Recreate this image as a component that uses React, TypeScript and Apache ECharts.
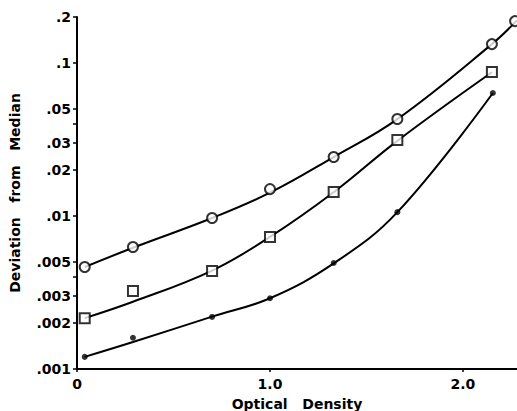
import React, { useEffect, useRef } from "react";
import * as echarts from "echarts";

// Measured markers (x = optical density, y = deviation from median)
const circleX = [0.04, 0.29, 0.7, 1.0, 1.33, 1.66, 2.15, 2.27];
const circleY = [0.00464, 0.00627, 0.0097, 0.015, 0.0243, 0.0431, 0.133, 0.188];
const squareX = [0.04, 0.29, 0.7, 1.0, 1.33, 1.66, 2.15];
const squareY = [0.00215, 0.00324, 0.00437, 0.0073, 0.01435, 0.0314, 0.0873];
const dotX = [0.04, 0.29, 0.7, 1.0, 1.33, 1.66, 2.155];
const dotY = [0.0012, 0.0016, 0.00219, 0.0029, 0.00493, 0.0106, 0.0637];

// Hand-drawn fitted curves
const circleCurveX = [0.04, 0.29, 0.7, 1.0, 1.33, 1.66, 2.15, 2.28];
const circleCurveY = [0.00464, 0.0062, 0.0097, 0.0142, 0.0243, 0.043, 0.133, 0.19];
const squareCurveX = [0.04, 0.29, 0.7, 1.0, 1.33, 1.66, 2.15];
const squareCurveY = [0.00215, 0.00275, 0.0044, 0.0073, 0.0143, 0.031, 0.087];
const dotCurveX = [0.04, 0.29, 0.7, 1.0, 1.33, 1.66, 2.155];
const dotCurveY = [0.0012, 0.0015, 0.0022, 0.0029, 0.0049, 0.0106, 0.0637];

const yLabelValues = [0.001, 0.002, 0.003, 0.005, 0.01, 0.02, 0.03, 0.05, 0.1, 0.2];
const yTickValues = [0.001, 0.002, 0.003, 0.004, 0.005, 0.01, 0.02, 0.03, 0.04, 0.05, 0.1, 0.2];
const xTickValues = [0, 1, 2];

const FONT = "DejaVu Sans";
const zip = (xs: number[], ys: number[]) => xs.map((x, i) => [x, ys[i]]);

export default function App() {
  const ref = useRef<HTMLDivElement>(null);
  useEffect(() => {
    if (!ref.current) return;
    const chart = echarts.init(ref.current, undefined, { renderer: "svg" });
    const lineStyle = { color: "#000", width: 2 };
    chart.setOption({
      animation: false,
      backgroundColor: "#fff",
      grid: { left: 77, right: 0, top: 17, bottom: 42, containLabel: false, outerBoundsMode: "none" },
      xAxis: {
        type: "value",
        min: 0,
        max: 2.28,
        name: "Optical\u00a0\u00a0\u00a0Density",
        nameLocation: "middle",
        nameGap: 28,
        nameTextStyle: { fontFamily: FONT, fontSize: 14, fontWeight: "bold", color: "#000" },
        splitLine: { show: false },
        axisLine: { lineStyle: { color: "#000", width: 2 } },
        axisTick: { customValues: xTickValues, length: 3, lineStyle: { color: "#000", width: 1.5 } },
        axisLabel: {
          customValues: xTickValues,
          margin: 8,
          fontFamily: FONT,
          fontSize: 14,
          fontWeight: "bold",
          color: "#000",
          formatter: (v: number) => (v === 0 ? "0" : v.toFixed(1)),
        },
      },
      yAxis: {
        type: "log",
        logBase: 10,
        min: 0.001,
        max: 0.2,
        name: "Deviation\u00a0\u00a0\u00a0from\u00a0\u00a0\u00a0Median",
        nameLocation: "middle",
        nameGap: 55,
        nameTextStyle: { fontFamily: FONT, fontSize: 14, fontWeight: "bold", color: "#000" },
        splitLine: { show: false },
        axisLine: { lineStyle: { color: "#000", width: 2 } },
        axisTick: { customValues: yTickValues, length: 4, lineStyle: { color: "#000", width: 1.5 } },
        axisLabel: {
          customValues: yLabelValues,
          margin: 6,
          fontFamily: FONT,
          fontSize: 14,
          fontWeight: "bold",
          color: "#000",
          formatter: (v: number) => String(+v.toPrecision(3)).replace(/^0/, ""),
        },
      },
      series: [
        {
          type: "line",
          data: zip(circleCurveX, circleCurveY),
          smooth: 0.4,
          showSymbol: false,
          lineStyle,
          silent: true,
          clip: false,
          z: 1,
        },
        {
          type: "line",
          data: zip(squareCurveX, squareCurveY),
          smooth: 0.4,
          showSymbol: false,
          lineStyle,
          silent: true,
          z: 1,
        },
        {
          type: "line",
          data: zip(dotCurveX, dotCurveY),
          smooth: 0.4,
          showSymbol: false,
          lineStyle,
          silent: true,
          z: 1,
        },
        {
          type: "scatter",
          data: zip(circleX, circleY),
          symbol: "circle",
          symbolSize: 10,
          itemStyle: { color: "#fff", borderColor: "#000", borderWidth: 2 },
          clip: false,
          z: 3,
        },
        {
          type: "scatter",
          data: zip(squareX, squareY),
          symbol: "rect",
          symbolSize: 10,
          itemStyle: { color: "#fff", borderColor: "#000", borderWidth: 2 },
          z: 3,
        },
        {
          type: "scatter",
          data: zip(dotX, dotY),
          symbol: "circle",
          symbolSize: 6,
          itemStyle: { color: "#000" },
          z: 3,
        },
      ],
    });
    return () => chart.dispose();
  }, []);
  return <div ref={ref} style={{ width: 517, height: 411, position: "absolute", left: 0, top: 0 }} />;
}
